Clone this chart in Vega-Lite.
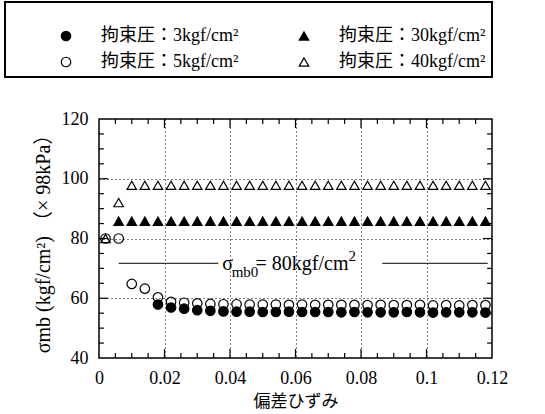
{
  "$schema": "https://vega.github.io/schema/vega-lite/v6.json",
  "width": 393,
  "height": 239,
  "autosize": {"type": "none"},
  "padding": {"left": 99, "top": 119, "right": 53, "bottom": 56},
  "background": "white",
  "config": {
    "view": {"stroke": "black", "strokeWidth": 1.5, "fill": null},
    "font": "Liberation Serif, Noto Sans CJK JP",
    "legend": {"strokeWidth": 2},
    "axis": {"domain": false, "ticks": false}
  },
  "datasets": {
    "pts": [
      {"x": 0.002, "y": 80, "s": "拘束圧：5kgf/cm²"},
      {"x": 0.006, "y": 80, "s": "拘束圧：5kgf/cm²"},
      {"x": 0.010, "y": 64.8, "s": "拘束圧：5kgf/cm²"},
      {"x": 0.014, "y": 63.2, "s": "拘束圧：5kgf/cm²"},
      {"x": 0.018, "y": 60.3, "s": "拘束圧：5kgf/cm²"},
      {"x": 0.022, "y": 58.8, "s": "拘束圧：5kgf/cm²"},
      {"x": 0.026, "y": 58.5, "s": "拘束圧：5kgf/cm²"},
      {"x": 0.030, "y": 58.3, "s": "拘束圧：5kgf/cm²"},
      {"x": 0.034, "y": 58.1, "s": "拘束圧：5kgf/cm²"},
      {"x": 0.038, "y": 58.0, "s": "拘束圧：5kgf/cm²"},
      {"x": 0.042, "y": 58.0, "s": "拘束圧：5kgf/cm²"},
      {"x": 0.046, "y": 57.9, "s": "拘束圧：5kgf/cm²"},
      {"x": 0.050, "y": 57.9, "s": "拘束圧：5kgf/cm²"},
      {"x": 0.054, "y": 57.9, "s": "拘束圧：5kgf/cm²"},
      {"x": 0.058, "y": 57.8, "s": "拘束圧：5kgf/cm²"},
      {"x": 0.062, "y": 57.9, "s": "拘束圧：5kgf/cm²"},
      {"x": 0.066, "y": 57.8, "s": "拘束圧：5kgf/cm²"},
      {"x": 0.070, "y": 57.8, "s": "拘束圧：5kgf/cm²"},
      {"x": 0.074, "y": 57.8, "s": "拘束圧：5kgf/cm²"},
      {"x": 0.078, "y": 57.8, "s": "拘束圧：5kgf/cm²"},
      {"x": 0.082, "y": 57.7, "s": "拘束圧：5kgf/cm²"},
      {"x": 0.086, "y": 57.8, "s": "拘束圧：5kgf/cm²"},
      {"x": 0.090, "y": 57.7, "s": "拘束圧：5kgf/cm²"},
      {"x": 0.094, "y": 57.7, "s": "拘束圧：5kgf/cm²"},
      {"x": 0.098, "y": 57.8, "s": "拘束圧：5kgf/cm²"},
      {"x": 0.102, "y": 57.6, "s": "拘束圧：5kgf/cm²"},
      {"x": 0.106, "y": 57.7, "s": "拘束圧：5kgf/cm²"},
      {"x": 0.110, "y": 57.6, "s": "拘束圧：5kgf/cm²"},
      {"x": 0.114, "y": 57.7, "s": "拘束圧：5kgf/cm²"},
      {"x": 0.118, "y": 57.7, "s": "拘束圧：5kgf/cm²"},
      {"x": 0.018, "y": 57.9, "s": "拘束圧：3kgf/cm²"},
      {"x": 0.022, "y": 56.9, "s": "拘束圧：3kgf/cm²"},
      {"x": 0.026, "y": 56.5, "s": "拘束圧：3kgf/cm²"},
      {"x": 0.030, "y": 56.0, "s": "拘束圧：3kgf/cm²"},
      {"x": 0.034, "y": 55.8, "s": "拘束圧：3kgf/cm²"},
      {"x": 0.038, "y": 55.6, "s": "拘束圧：3kgf/cm²"},
      {"x": 0.042, "y": 55.5, "s": "拘束圧：3kgf/cm²"},
      {"x": 0.046, "y": 55.5, "s": "拘束圧：3kgf/cm²"},
      {"x": 0.050, "y": 55.4, "s": "拘束圧：3kgf/cm²"},
      {"x": 0.054, "y": 55.4, "s": "拘束圧：3kgf/cm²"},
      {"x": 0.058, "y": 55.5, "s": "拘束圧：3kgf/cm²"},
      {"x": 0.062, "y": 55.4, "s": "拘束圧：3kgf/cm²"},
      {"x": 0.066, "y": 55.4, "s": "拘束圧：3kgf/cm²"},
      {"x": 0.070, "y": 55.4, "s": "拘束圧：3kgf/cm²"},
      {"x": 0.074, "y": 55.3, "s": "拘束圧：3kgf/cm²"},
      {"x": 0.078, "y": 55.4, "s": "拘束圧：3kgf/cm²"},
      {"x": 0.082, "y": 55.3, "s": "拘束圧：3kgf/cm²"},
      {"x": 0.086, "y": 55.3, "s": "拘束圧：3kgf/cm²"},
      {"x": 0.090, "y": 55.3, "s": "拘束圧：3kgf/cm²"},
      {"x": 0.094, "y": 55.4, "s": "拘束圧：3kgf/cm²"},
      {"x": 0.098, "y": 55.3, "s": "拘束圧：3kgf/cm²"},
      {"x": 0.102, "y": 55.2, "s": "拘束圧：3kgf/cm²"},
      {"x": 0.106, "y": 55.3, "s": "拘束圧：3kgf/cm²"},
      {"x": 0.110, "y": 55.3, "s": "拘束圧：3kgf/cm²"},
      {"x": 0.114, "y": 55.3, "s": "拘束圧：3kgf/cm²"},
      {"x": 0.118, "y": 55.2, "s": "拘束圧：3kgf/cm²"},
      {"x": 0.006, "y": 85.8, "s": "拘束圧：30kgf/cm²"},
      {"x": 0.010, "y": 85.8, "s": "拘束圧：30kgf/cm²"},
      {"x": 0.014, "y": 85.8, "s": "拘束圧：30kgf/cm²"},
      {"x": 0.018, "y": 85.8, "s": "拘束圧：30kgf/cm²"},
      {"x": 0.022, "y": 85.8, "s": "拘束圧：30kgf/cm²"},
      {"x": 0.026, "y": 85.8, "s": "拘束圧：30kgf/cm²"},
      {"x": 0.030, "y": 85.8, "s": "拘束圧：30kgf/cm²"},
      {"x": 0.034, "y": 85.8, "s": "拘束圧：30kgf/cm²"},
      {"x": 0.038, "y": 85.8, "s": "拘束圧：30kgf/cm²"},
      {"x": 0.042, "y": 85.8, "s": "拘束圧：30kgf/cm²"},
      {"x": 0.046, "y": 85.8, "s": "拘束圧：30kgf/cm²"},
      {"x": 0.050, "y": 85.8, "s": "拘束圧：30kgf/cm²"},
      {"x": 0.054, "y": 85.8, "s": "拘束圧：30kgf/cm²"},
      {"x": 0.058, "y": 85.8, "s": "拘束圧：30kgf/cm²"},
      {"x": 0.062, "y": 85.8, "s": "拘束圧：30kgf/cm²"},
      {"x": 0.066, "y": 85.8, "s": "拘束圧：30kgf/cm²"},
      {"x": 0.070, "y": 85.8, "s": "拘束圧：30kgf/cm²"},
      {"x": 0.074, "y": 85.8, "s": "拘束圧：30kgf/cm²"},
      {"x": 0.078, "y": 85.8, "s": "拘束圧：30kgf/cm²"},
      {"x": 0.082, "y": 85.8, "s": "拘束圧：30kgf/cm²"},
      {"x": 0.086, "y": 85.8, "s": "拘束圧：30kgf/cm²"},
      {"x": 0.090, "y": 85.8, "s": "拘束圧：30kgf/cm²"},
      {"x": 0.094, "y": 85.8, "s": "拘束圧：30kgf/cm²"},
      {"x": 0.098, "y": 85.8, "s": "拘束圧：30kgf/cm²"},
      {"x": 0.102, "y": 85.8, "s": "拘束圧：30kgf/cm²"},
      {"x": 0.106, "y": 85.8, "s": "拘束圧：30kgf/cm²"},
      {"x": 0.110, "y": 85.8, "s": "拘束圧：30kgf/cm²"},
      {"x": 0.114, "y": 85.8, "s": "拘束圧：30kgf/cm²"},
      {"x": 0.118, "y": 85.8, "s": "拘束圧：30kgf/cm²"},
      {"x": 0.002, "y": 80, "s": "拘束圧：40kgf/cm²"},
      {"x": 0.006, "y": 92, "s": "拘束圧：40kgf/cm²"},
      {"x": 0.010, "y": 97.8, "s": "拘束圧：40kgf/cm²"},
      {"x": 0.014, "y": 97.8, "s": "拘束圧：40kgf/cm²"},
      {"x": 0.018, "y": 97.8, "s": "拘束圧：40kgf/cm²"},
      {"x": 0.022, "y": 97.8, "s": "拘束圧：40kgf/cm²"},
      {"x": 0.026, "y": 97.8, "s": "拘束圧：40kgf/cm²"},
      {"x": 0.030, "y": 97.8, "s": "拘束圧：40kgf/cm²"},
      {"x": 0.034, "y": 97.8, "s": "拘束圧：40kgf/cm²"},
      {"x": 0.038, "y": 97.8, "s": "拘束圧：40kgf/cm²"},
      {"x": 0.042, "y": 97.8, "s": "拘束圧：40kgf/cm²"},
      {"x": 0.046, "y": 97.8, "s": "拘束圧：40kgf/cm²"},
      {"x": 0.050, "y": 97.8, "s": "拘束圧：40kgf/cm²"},
      {"x": 0.054, "y": 97.8, "s": "拘束圧：40kgf/cm²"},
      {"x": 0.058, "y": 97.8, "s": "拘束圧：40kgf/cm²"},
      {"x": 0.062, "y": 97.8, "s": "拘束圧：40kgf/cm²"},
      {"x": 0.066, "y": 97.8, "s": "拘束圧：40kgf/cm²"},
      {"x": 0.070, "y": 97.8, "s": "拘束圧：40kgf/cm²"},
      {"x": 0.074, "y": 97.8, "s": "拘束圧：40kgf/cm²"},
      {"x": 0.078, "y": 97.8, "s": "拘束圧：40kgf/cm²"},
      {"x": 0.082, "y": 97.8, "s": "拘束圧：40kgf/cm²"},
      {"x": 0.086, "y": 97.8, "s": "拘束圧：40kgf/cm²"},
      {"x": 0.090, "y": 97.8, "s": "拘束圧：40kgf/cm²"},
      {"x": 0.094, "y": 97.8, "s": "拘束圧：40kgf/cm²"},
      {"x": 0.098, "y": 97.8, "s": "拘束圧：40kgf/cm²"},
      {"x": 0.102, "y": 97.8, "s": "拘束圧：40kgf/cm²"},
      {"x": 0.106, "y": 97.8, "s": "拘束圧：40kgf/cm²"},
      {"x": 0.110, "y": 97.8, "s": "拘束圧：40kgf/cm²"},
      {"x": 0.114, "y": 97.8, "s": "拘束圧：40kgf/cm²"},
      {"x": 0.118, "y": 97.8, "s": "拘束圧：40kgf/cm²"}
    ],
    "ref": [
      {"x": 0.006, "x2": 0.0364},
      {"x": 0.0865, "x2": 0.1187}
    ],
    "xmaj": [{"v": 0.02}, {"v": 0.04}, {"v": 0.06}, {"v": 0.08}, {"v": 0.1}],
    "xmin": [{"v": 0.005}, {"v": 0.01}, {"v": 0.015}, {"v": 0.025}, {"v": 0.03}, {"v": 0.035}, {"v": 0.045}, {"v": 0.05}, {"v": 0.055}, {"v": 0.065}, {"v": 0.07}, {"v": 0.075}, {"v": 0.085}, {"v": 0.09}, {"v": 0.095}, {"v": 0.105}, {"v": 0.11}, {"v": 0.115}],
    "ymaj": [{"v": 60}, {"v": 80}, {"v": 100}],
    "ymin": [{"v": 45}, {"v": 50}, {"v": 55}, {"v": 65}, {"v": 70}, {"v": 75}, {"v": 85}, {"v": 90}, {"v": 95}, {"v": 105}, {"v": 110}, {"v": 115}]
  },
  "layer": [
    {
      "data": {"name": "pts"},
      "mark": {"type": "point", "strokeWidth": 1.2, "size": 90, "opacity": 1},
      "encoding": {
        "x": {
          "field": "x", "type": "quantitative",
          "scale": {"domain": [0, 0.12], "nice": false, "zero": false},
          "axis": {
            "orient": "bottom",
            "values": [0, 0.02, 0.04, 0.06, 0.08, 0.1, 0.12],
            "format": ".2~f",
            "grid": true,
            "gridOpacity": {"condition": {"test": "datum.value > 0.001 && datum.value < 0.119", "value": 1}, "value": 0},
            "gridDash": [1, 3], "gridColor": "black", "gridWidth": 1,
            "labelFontSize": 18, "labelColor": "black", "labelPadding": 11,
            "labelFont": "Liberation Serif",
            "labelOverlap": false, "labelFlush": false,
            "title": "偏差ひずみ", "titleFont": "Noto Sans CJK JP", "titleFontSize": 17,
            "titleFontWeight": "normal", "titleColor": "black", "titlePadding": 6
          }
        },
        "y": {
          "field": "y", "type": "quantitative",
          "scale": {"domain": [40, 120], "nice": false, "zero": false},
          "axis": {
            "orient": "left",
            "values": [40, 60, 80, 100, 120],
            "grid": true,
            "gridOpacity": {"condition": {"test": "datum.value > 41 && datum.value < 119", "value": 1}, "value": 0},
            "gridDash": [1, 3], "gridColor": "black", "gridWidth": 1,
            "labelFontSize": 18, "labelColor": "black", "labelPadding": 11,
            "labelFont": "Liberation Serif",
            "labelOverlap": false, "labelFlush": false,
            "title": "σmb (kgf/cm²)  （× 98kPa）", "titleFont": "Liberation Serif, Noto Sans CJK JP",
            "titleFontSize": 20, "titleFontWeight": "normal", "titleColor": "black", "titlePadding": 8
          }
        },
        "shape": {
          "field": "s", "type": "nominal",
          "scale": {
            "domain": ["拘束圧：3kgf/cm²", "拘束圧：5kgf/cm²", "拘束圧：30kgf/cm²", "拘束圧：40kgf/cm²"],
            "range": ["circle", "circle", "triangle-up", "triangle-up"]
          },
          "legend": {
            "title": "\u00a0", "titleFontSize": 15, "titlePadding": 4, "orient": "none", "legendX": -94, "legendY": -117, "columns": 2,
            "padding": 6, "strokeColor": "black", "fillColor": "white",
            "symbolSize": 90, "symbolStrokeColor": "black", "symbolStrokeWidth": 1.2, "symbolOffset": 46,
            "labelFontSize": 18, "labelFont": "Liberation Serif, Noto Sans CJK JP", "labelColor": "black",
            "labelOffset": 26, "labelLimit": 400, "columnPadding": 10, "rowPadding": 8
          }
        },
        "fill": {
          "field": "s", "type": "nominal",
          "scale": {
            "domain": ["拘束圧：3kgf/cm²", "拘束圧：5kgf/cm²", "拘束圧：30kgf/cm²", "拘束圧：40kgf/cm²"],
            "range": ["black", "transparent", "black", "transparent"]
          },
          "legend": {
            "title": "\u00a0", "titleFontSize": 15, "titlePadding": 4, "orient": "none", "legendX": -94, "legendY": -117, "columns": 2,
            "padding": 6, "strokeColor": "black", "fillColor": "white",
            "symbolSize": 90, "symbolStrokeColor": "black", "symbolStrokeWidth": 1.2, "symbolOffset": 46,
            "labelFontSize": 18, "labelFont": "Liberation Serif, Noto Sans CJK JP", "labelColor": "black",
            "labelOffset": 26, "labelLimit": 400, "columnPadding": 10, "rowPadding": 8
          }
        },
        "stroke": {
          "field": "s", "type": "nominal",
          "scale": {
            "domain": ["拘束圧：3kgf/cm²", "拘束圧：5kgf/cm²", "拘束圧：30kgf/cm²", "拘束圧：40kgf/cm²"],
            "range": ["black", "black", "black", "black"]
          },
          "legend": {
            "title": "\u00a0", "titleFontSize": 15, "titlePadding": 4, "orient": "none", "legendX": -94, "legendY": -117, "columns": 2,
            "padding": 6, "strokeColor": "black", "fillColor": "white",
            "symbolSize": 90, "symbolStrokeColor": "black", "symbolStrokeWidth": 1.2, "symbolOffset": 46,
            "labelFontSize": 18, "labelFont": "Liberation Serif, Noto Sans CJK JP", "labelColor": "black",
            "labelOffset": 26, "labelLimit": 400, "columnPadding": 10, "rowPadding": 8
          }
        }
      }
    },
    {
      "data": {"name": "ref"},
      "mark": {"type": "rule", "stroke": "black", "strokeWidth": 1},
      "encoding": {
        "x": {"field": "x", "type": "quantitative", "axis": null},
        "x2": {"field": "x2"},
        "y": {"datum": 71.7, "type": "quantitative", "axis": null}
      }
    },
    {
      "data": {"name": "xmaj"},
      "mark": {"type": "rule", "stroke": "black", "strokeWidth": 1.2},
      "encoding": {
        "x": {"field": "v", "type": "quantitative", "axis": null},
        "y": {"datum": 40, "type": "quantitative", "axis": null},
        "y2": {"datum": 43}
      }
    },
    {
      "data": {"name": "xmaj"},
      "mark": {"type": "rule", "stroke": "black", "strokeWidth": 1.2},
      "encoding": {
        "x": {"field": "v", "type": "quantitative", "axis": null},
        "y": {"datum": 120, "type": "quantitative", "axis": null},
        "y2": {"datum": 117}
      }
    },
    {
      "data": {"name": "xmin"},
      "mark": {"type": "rule", "stroke": "black", "strokeWidth": 1.2},
      "encoding": {
        "x": {"field": "v", "type": "quantitative", "axis": null},
        "y": {"datum": 40, "type": "quantitative", "axis": null},
        "y2": {"datum": 41.7}
      }
    },
    {
      "data": {"name": "xmin"},
      "mark": {"type": "rule", "stroke": "black", "strokeWidth": 1.2},
      "encoding": {
        "x": {"field": "v", "type": "quantitative", "axis": null},
        "y": {"datum": 120, "type": "quantitative", "axis": null},
        "y2": {"datum": 118.3}
      }
    },
    {
      "data": {"name": "ymaj"},
      "mark": {"type": "rule", "stroke": "black", "strokeWidth": 1.2},
      "encoding": {
        "y": {"field": "v", "type": "quantitative", "axis": null},
        "x": {"datum": 0, "type": "quantitative", "axis": null},
        "x2": {"datum": 0.00275}
      }
    },
    {
      "data": {"name": "ymaj"},
      "mark": {"type": "rule", "stroke": "black", "strokeWidth": 1.2},
      "encoding": {
        "y": {"field": "v", "type": "quantitative", "axis": null},
        "x": {"datum": 0.12, "type": "quantitative", "axis": null},
        "x2": {"datum": 0.11725}
      }
    },
    {
      "data": {"name": "ymin"},
      "mark": {"type": "rule", "stroke": "black", "strokeWidth": 1.2},
      "encoding": {
        "y": {"field": "v", "type": "quantitative", "axis": null},
        "x": {"datum": 0, "type": "quantitative", "axis": null},
        "x2": {"datum": 0.0015}
      }
    },
    {
      "data": {"name": "ymin"},
      "mark": {"type": "rule", "stroke": "black", "strokeWidth": 1.2},
      "encoding": {
        "y": {"field": "v", "type": "quantitative", "axis": null},
        "x": {"datum": 0.12, "type": "quantitative", "axis": null},
        "x2": {"datum": 0.1185}
      }
    },
    {
      "data": {"values": [{"t": "σ"}]},
      "mark": {"type": "text", "align": "left", "baseline": "middle", "fontSize": 20, "font": "Liberation Serif", "color": "black"},
      "encoding": {
        "x": {"datum": 0.0376, "type": "quantitative", "axis": null},
        "y": {"datum": 71.4, "type": "quantitative", "axis": null},
        "text": {"field": "t"}
      }
    },
    {
      "data": {"values": [{"t": "mb0"}]},
      "mark": {"type": "text", "align": "left", "baseline": "middle", "fontSize": 15, "font": "Liberation Serif", "color": "black"},
      "encoding": {
        "x": {"datum": 0.0405, "type": "quantitative", "axis": null},
        "y": {"datum": 68.8, "type": "quantitative", "axis": null},
        "text": {"field": "t"}
      }
    },
    {
      "data": {"values": [{"t": "= 80kgf/cm"}]},
      "mark": {"type": "text", "align": "left", "baseline": "middle", "fontSize": 20, "font": "Liberation Serif", "color": "black"},
      "encoding": {
        "x": {"datum": 0.0478, "type": "quantitative", "axis": null},
        "y": {"datum": 71.4, "type": "quantitative", "axis": null},
        "text": {"field": "t"}
      }
    },
    {
      "data": {"values": [{"t": "2"}]},
      "mark": {"type": "text", "align": "left", "baseline": "middle", "fontSize": 15, "font": "Liberation Serif", "color": "black"},
      "encoding": {
        "x": {"datum": 0.0762, "type": "quantitative", "axis": null},
        "y": {"datum": 74.3, "type": "quantitative", "axis": null},
        "text": {"field": "t"}
      }
    }
  ],
  "resolve": {"axis": {"x": "independent", "y": "independent"}}
}
